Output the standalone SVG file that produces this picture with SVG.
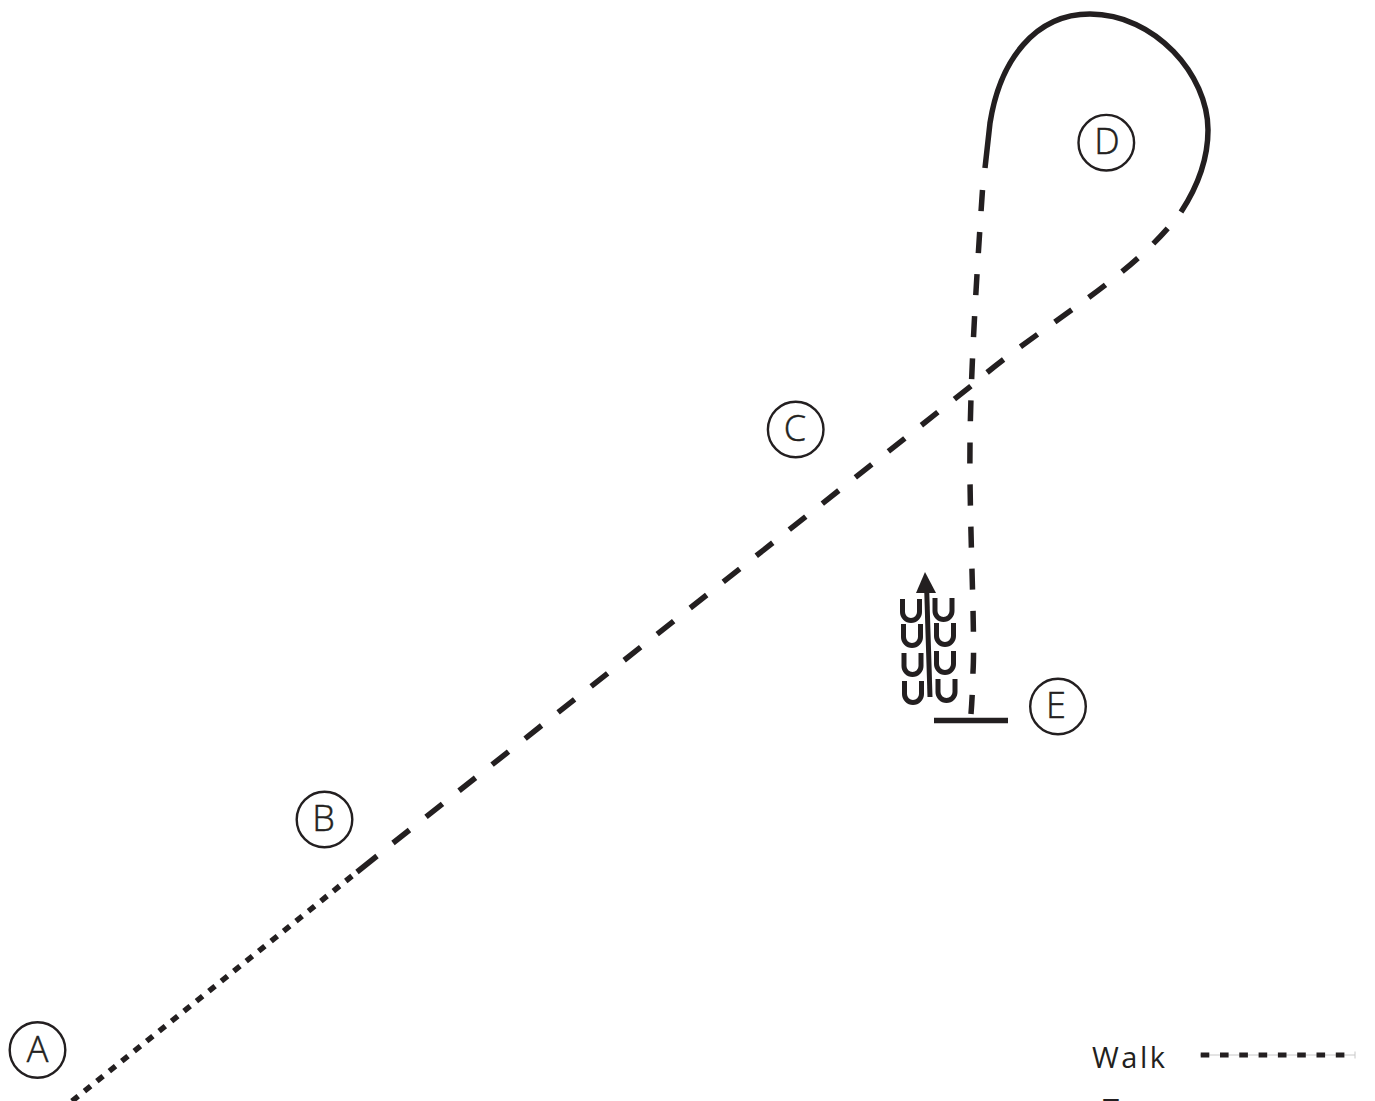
<svg xmlns="http://www.w3.org/2000/svg" width="1375" height="1101" viewBox="0 0 1375 1101">
<style>
.c{fill:#fff;stroke:#231f20;stroke-width:2.400}
.t{font-family:"Open Sans","Liberation Sans",sans-serif;font-weight:300;font-size:36px;fill:#231f20;stroke:#231f20;stroke-width:.5px;text-anchor:middle}
.l{font-family:"Open Sans","Liberation Sans",sans-serif;font-size:29px;fill:#231f20;letter-spacing:2.500px}
.p{fill:none;stroke:#231f20;stroke-width:5.500}
.d{stroke-dasharray:21 21.100}
.u{fill:none;stroke:#231f20;stroke-width:5}
</style>
<defs><path id="hoof" class="u" d="M-8.500-24V-11A8.500 8.500 0 0 0 8.500-11V-24"/></defs>
<rect width="1375" height="1101" fill="#fff"/>
<g id="connectors">
<path class="p" stroke-dasharray="8 7.970" d="M352 876L66 1106"/>
<path class="p" d="M357 872L377 856"/>
<path class="p d" d="M393 843L971 386C1045 322 1130 280 1181 212"/>
<path class="p" d="M1181 212C1198 186 1208 158 1208 130C1208 75 1155 14 1090 14C1035 14 1000 60 990 123L985 168"/>
<path class="p d" d="M982.500 190C975 300 969 400 970 480C971 560 975 640 973 672Q972.500 695 971 714"/>
<path class="p" d="M934 720.500H1008"/>
</g>
<g id="hoofprints">
<use href="#hoof" x="911" y="623"/><use href="#hoof" x="943.500" y="622"/>
<use href="#hoof" x="912" y="648"/><use href="#hoof" x="945" y="647"/>
<use href="#hoof" x="912.500" y="677"/><use href="#hoof" x="945" y="675"/>
<use href="#hoof" x="913" y="705"/><use href="#hoof" x="946.500" y="703"/>
<path d="M926.700 590L930 697" stroke="#231f20" stroke-width="5" fill="none"/>
<path d="M925 572L936 593H916Z" fill="#231f20"/>
</g>
<g id="A"><circle class="c" cx="37.500" cy="1050" r="27.800"/><text class="t" x="37.500" y="1062">A</text></g>
<g id="B"><circle class="c" cx="324.500" cy="819.500" r="27.800"/><text class="t" x="323.500" y="831">B</text></g>
<g id="C"><circle class="c" cx="795.700" cy="429.500" r="27.800"/><text class="t" x="795" y="441">C</text></g>
<g id="D"><circle class="c" cx="1106.300" cy="142.700" r="27.800"/><text class="t" x="1107" y="154">D</text></g>
<g id="E"><circle class="c" cx="1058" cy="706.500" r="27.800"/><text class="t" x="1056" y="718">E</text></g>
<g id="legend">
<text class="l" x="1092" y="1068">Walk</text>
<path d="M1200 1055H1355" stroke="#c8c8c8" stroke-width="1"/>
<path d="M1355 1051.500V1058.500" stroke="#c8c8c8" stroke-width="1"/>
<path d="M1200.700 1055H1346" stroke="#231f20" stroke-width="5" stroke-dasharray="8.600 10.700"/>
<text class="l" x="1103" y="1120">T</text>
</g>
</svg>
